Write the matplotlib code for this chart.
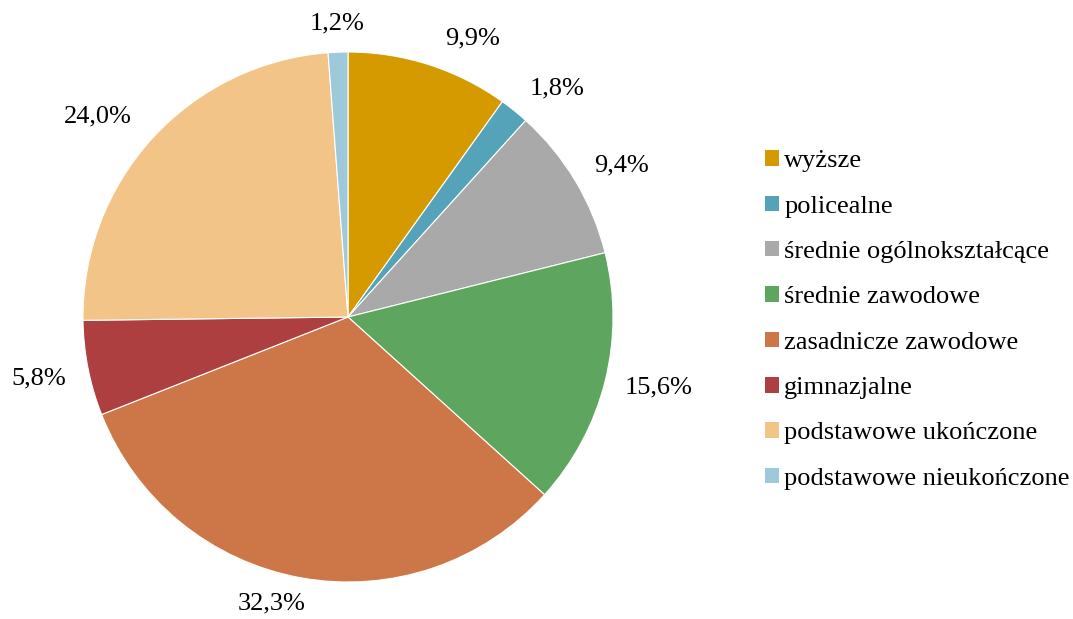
import matplotlib
matplotlib.use("Agg")
import matplotlib.pyplot as plt
from matplotlib.patches import Patch
import numpy as np

plt.rcParams['font.family'] = ['Liberation Serif', 'DejaVu Serif']

# Data
categories = ['wyższe', 'policealne', 'średnie ogólnokształcące', 'średnie zawodowe',
              'zasadnicze zawodowe', 'gimnazjalne', 'podstawowe ukończone',
              'podstawowe nieukończone']
values = [9.9, 1.8, 9.4, 15.6, 32.3, 5.8, 24.0, 1.2]
colors = ['#D49A00', '#54A3B8', '#A9A9A9', '#5EA660',
          '#CD7748', '#AE3F40', '#F3C488', '#9DC9DA']

fig = plt.figure(figsize=(10.73, 6.19), dpi=100)
ax = fig.add_axes([83 / 1073, 37 / 619, 530 / 1073, 530 / 619])

wedges, _ = ax.pie(values, colors=colors, startangle=90, counterclock=False,
                   radius=1, wedgeprops=dict(edgecolor='white', linewidth=0.8))

# percentage labels outside the pie (label distance per slice, like Excel's best fit)
label_r = [1.15, 1.17, 1.18, 1.2, 1.12, 1.19, 1.21, 1.11]
label_shift = [6.3, 3.5, 2, -1.3, 4.6, 0, -3.8, 0]  # small angular nudge in degrees
for w, v, r, s in zip(wedges, values, label_r, label_shift):
    ang = np.deg2rad((w.theta1 + w.theta2) / 2 - s)
    ax.text(r * np.cos(ang), r * np.sin(ang), f'{v:.1f}%'.replace('.', ','),
            ha='center', va='center', fontsize=19)

ax.set_xlim(-1, 1)
ax.set_ylim(-1, 1)
ax.set_aspect('equal')
ax.axis('off')

handles = [Patch(facecolor=c, edgecolor='none') for c in colors]
fig.legend(handles, categories, loc='center left', bbox_to_anchor=(765 / 1073, 1 - 320 / 619),
           frameon=False, fontsize=19, handlelength=0.53, handleheight=0.53,
           handletextpad=0.2, labelspacing=0.88, borderpad=0, borderaxespad=0)

fig.savefig('out.png', dpi=100)
